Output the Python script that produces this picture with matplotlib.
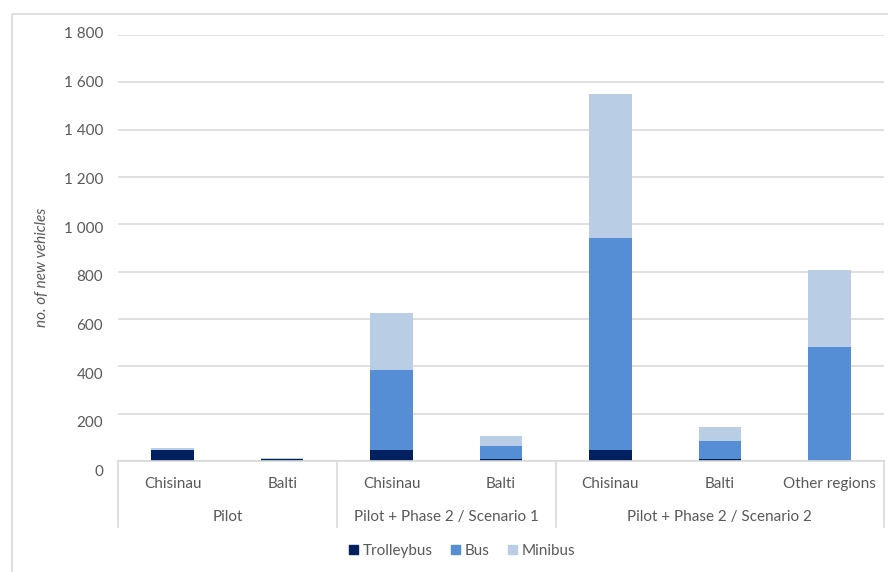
import numpy as np
import matplotlib.pyplot as plt
from matplotlib.patches import Rectangle, Patch
from matplotlib.lines import Line2D

plt.rcParams['font.family'] = ['Lato', 'DejaVu Sans']

# Stacked counts of new vehicles per city and scenario
cities = ['Chisinau', 'Balti', 'Chisinau', 'Balti', 'Chisinau', 'Balti', 'Other regions']
groups = ['Pilot', 'Pilot + Phase 2 / Scenario 1', 'Pilot + Phase 2 / Scenario 2']
group_sizes = [2, 2, 3]
trolleybus = [48, 10, 48, 8, 48, 8, 0]
bus = [0, 0, 336, 55, 893, 78, 483]
minibus = [6, 2, 240, 43, 608, 58, 324]
y_ticks = [0, 200, 400, 600, 800, 1000, 1200, 1400, 1600, 1800]

c_trol = '#002060'
c_bus = '#558ED5'
c_mini = '#B9CDE5'
txt = '#595959'
grid = '#D9D9D9'

W, H = 888, 572
fig = plt.figure(figsize=(W / 100, H / 100), dpi=100)
ax = fig.add_axes([118 / W, 1 - 461 / H, (884 - 118) / W, (461 - 35) / H])

# light frame around the chart area
fig.patches.append(Rectangle((12 / W, -0.1), 1.2, 1 - 14 / H + 0.1, transform=fig.transFigure,
                             fill=False, edgecolor=grid, linewidth=1.2))

x = np.arange(len(cities))
w = 0.39
t = np.array(trolleybus)
b = np.array(bus)
m = np.array(minibus)
ax.bar(x, t, w, color=c_trol, label='Trolleybus', zorder=3)
ax.bar(x, b, w, bottom=t, color=c_bus, label='Bus', zorder=3)
ax.bar(x, m, w, bottom=t + b, color=c_mini, label='Minibus', zorder=3)

ax.set_xlim(-0.5, len(cities) - 0.5)
ax.set_ylim(0, 1800)
ax.set_yticks(y_ticks)
ax.yaxis.grid(True, color=grid, linewidth=1.2)
ax.set_axisbelow(True)
ax.tick_params(length=0, labelleft=False, labelbottom=False)
for s in ax.spines.values():
    s.set_visible(False)

# value labels on the left
for v in y_ticks:
    ypx = 34 + (1800 - v) / 1800 * 438
    ax.text(-15 / (884 - 118), (461 - ypx) / 426, f'{v:,}'.replace(',', ' '),
            transform=ax.transAxes, ha='right', va='center', fontsize=11, color=txt)

# two-level category axis
px_h = 426
ax.plot([0, 1], [0, 0], transform=ax.transAxes, color=grid, lw=1.2, clip_on=False, zorder=4)
bounds = [-0.5]
for n in group_sizes:
    bounds.append(bounds[-1] + n)
trans = ax.get_xaxis_transform()
for bx in bounds:
    ax.add_line(Line2D([bx, bx], [0, -66 / px_h], transform=trans, color=grid, lw=1.2, clip_on=False))
for i, c in enumerate(cities):
    ax.text(i, -23 / px_h, c, transform=trans, ha='center', va='center', fontsize=11, color=txt)
for g, lo, hi in zip(groups, bounds[:-1], bounds[1:]):
    ax.text((lo + hi) / 2, -56 / px_h, g, transform=trans, ha='center', va='center', fontsize=11, color=txt)

fig.text(42 / W, 1 - 267 / H, 'no. of new vehicles', rotation=90, ha='center', va='center',
         fontsize=11, style='italic', color=txt)

handles = [Patch(color=c_trol), Patch(color=c_bus), Patch(color=c_mini)]
fig.legend(handles, ['Trolleybus', 'Bus', 'Minibus'], loc='center', ncol=3,
           bbox_to_anchor=(462 / W, 1 - 551 / H), frameon=False, fontsize=11,
           handlelength=0.6, handleheight=0.6, handletextpad=0.3, columnspacing=1.2,
           labelcolor=txt)

fig.savefig('out.png', dpi=100)
